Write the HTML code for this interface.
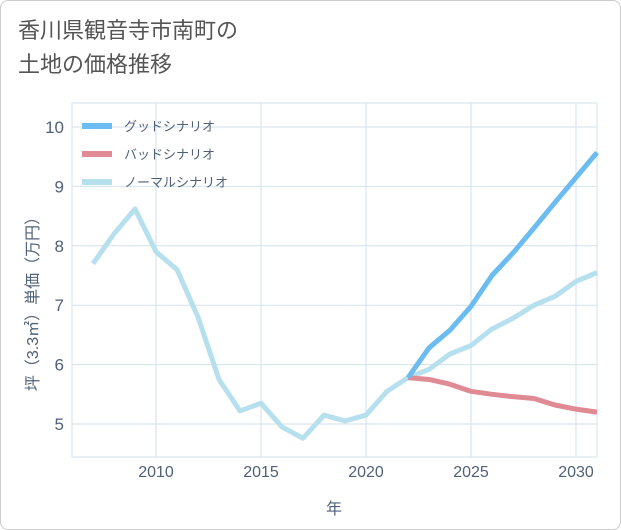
<!DOCTYPE html>
<html><head><meta charset="utf-8"><style>
body{margin:0;background:#fff;font-family:"Liberation Sans","Noto Sans CJK JP",sans-serif;}
#card{position:absolute;left:0;top:0;width:619px;height:528px;border:1px solid #ccc;border-radius:8px;background:#fff;}
#title{position:absolute;left:18px;top:14px;font-size:22px;line-height:34px;color:#555;}
svg{position:absolute;left:0;top:0;}
</style></head><body>
<div id="card"></div>
<div id="title">香川県観音寺市南町の<br>土地の価格推移</div>
<svg id="chart" width="621" height="530"></svg>
<script>
const years=[2007,2008,2009,2010,2011,2012,2013,2014,2015,2016,2017,2018,2019,2020,2021,2022,2023,2024,2025,2026,2027,2028,2029,2030,2031];
const normalVals=[7.7,8.2,8.62,7.9,7.6,6.8,5.75,5.22,5.35,4.95,4.76,5.15,5.05,5.15,5.55,5.78,5.92,6.18,6.32,6.6,6.78,7.0,7.15,7.4,7.55];
const futureYears=[2022,2023,2024,2025,2026,2027,2028,2029,2030,2031];
const goodVals=[5.78,6.28,6.58,6.98,7.5,7.88,8.3,8.73,9.15,9.57];
const badVals=[5.78,5.75,5.67,5.55,5.5,5.46,5.43,5.32,5.25,5.2];
const xTicks=[2010,2015,2020,2025,2030];
const yTicks=[5,6,7,8,9,10];
const legendLabels=["グッドシナリオ","バッドシナリオ","ノーマルシナリオ"];
const colors=["#6bbcf0","#e08a93","#b7e0ee"];
const L=72,R=597,T=103,B=457;
const x=v=>156+(v-2010)*21;
const y=v=>424-(v-5)*59.4;
const svg=document.getElementById('chart');
const NS='http://www.w3.org/2000/svg';
function mk(t,a,p){const e=document.createElementNS(NS,t);for(const k in a)e.setAttribute(k,a[k]);(p||svg).appendChild(e);return e;}
let bg=mk('rect',{x:L,y:T,width:R-L,height:B-T,fill:'#fff',stroke:'#d2e2ec'});


xTicks.forEach(t=>{
 let g=mk('line',{x1:x(t),x2:x(t),y1:T,y2:B,stroke:'#d2e2ec'});
 
 
 let tx=mk('text',{x:x(t),y:477,'text-anchor':'middle','font-size':16,fill:'#4f6178'});tx.textContent=t;
 
 
});
yTicks.forEach(t=>{
 let g=mk('line',{x1:L,x2:R,y1:y(t),y2:y(t),stroke:'#d2e2ec'});
 
 
 let tx=mk('text',{x:64,y:y(t)+6,'text-anchor':'end','font-size':17,fill:'#4f6178'});tx.textContent=t;
 
 
});
function line(xs,vs,c,name){
 let p=mk('polyline',{points:xs.map((v,i)=>x(v)+','+y(vs[i])).join(' '),fill:'none',stroke:c,'stroke-width':5,'stroke-linejoin':'round'});
 
 
}
line(years,normalVals,colors[2],'normal-scenario-line');
line(futureYears,badVals,colors[1],'bad-scenario-line');
line(futureYears,goodVals,colors[0],'good-scenario-line');
legendLabels.forEach((lb,i)=>{
 let ly=126+i*28;
 let l=mk('line',{x1:82,x2:112,y1:ly,y2:ly,stroke:colors[i],'stroke-width':6});
 
 
 let t=mk('text',{x:124,y:ly+5,'font-size':13,fill:'#4f6178'});t.textContent=lb;
 
 
});
let xt=mk('text',{x:334,y:514,'text-anchor':'middle','font-size':16,fill:'#4f6178'});xt.textContent='年';


let yt=mk('text',{x:0,y:0,'text-anchor':'middle','font-size':16,fill:'#4f6178',transform:'translate(38,300) rotate(-90)'});yt.textContent='坪（3.3㎡）単価（万円）';


</script>
</body></html>
